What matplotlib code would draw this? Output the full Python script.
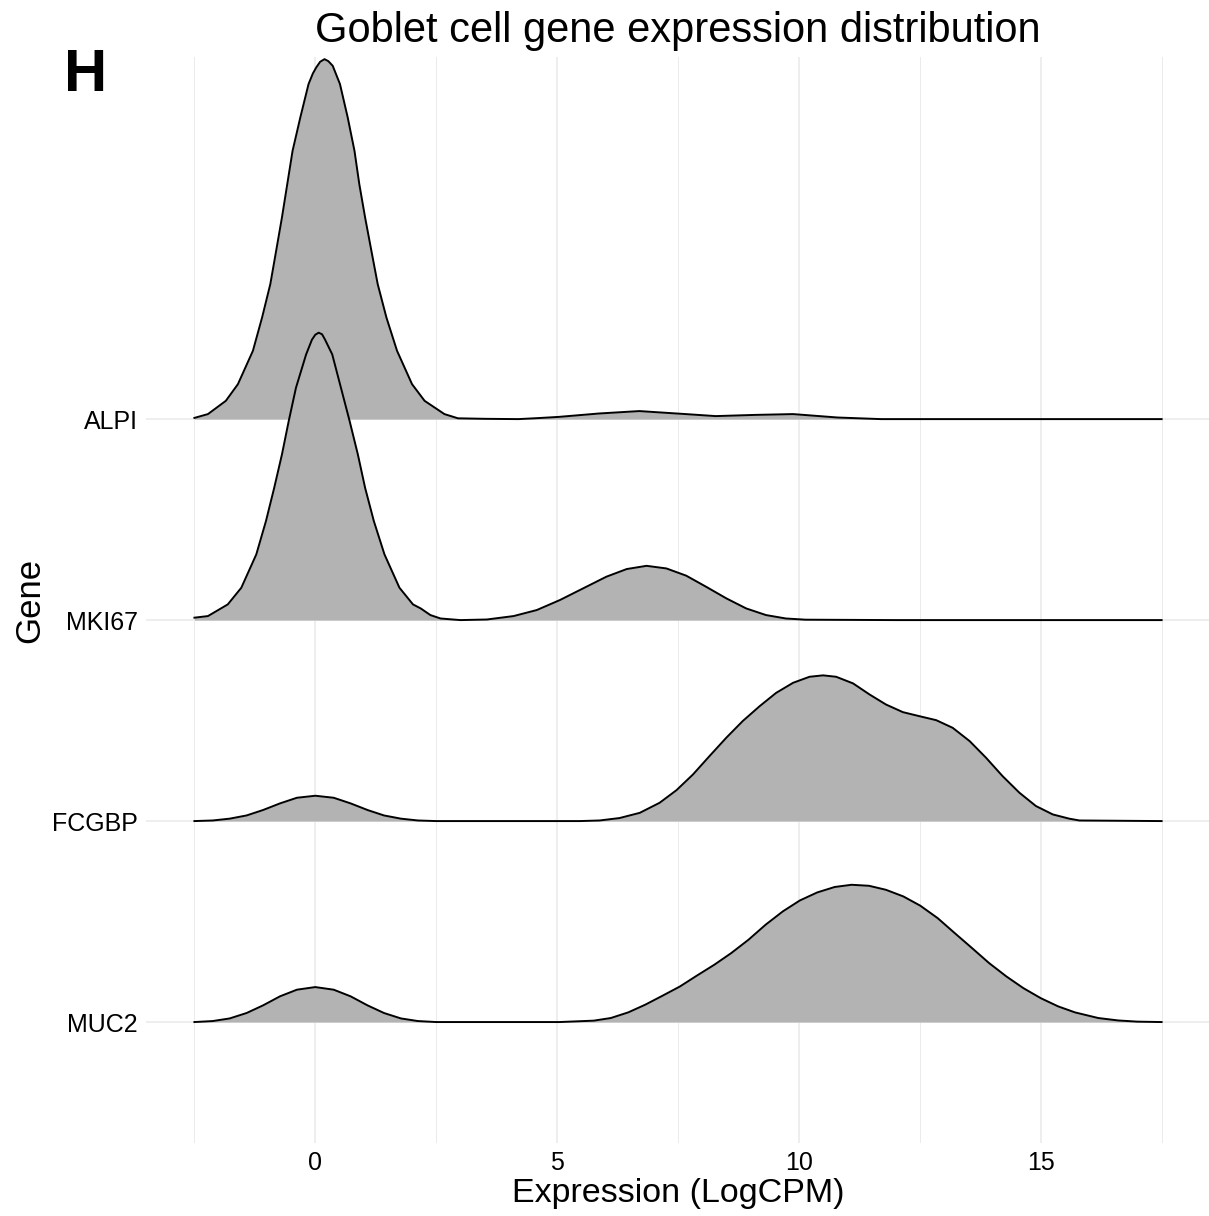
import matplotlib
matplotlib.use("Agg")
import matplotlib.pyplot as plt
from matplotlib.ticker import MultipleLocator

plt.rcParams['font.family'] = ['Liberation Sans', 'DejaVu Sans']

# genes from bottom row to top row
genes = ["MUC2", "FCGBP", "MKI67", "ALPI"]

# ridge heights (1.0 = distance between two rows)
alpi_x = [-2.5, -2.22, -1.85, -1.6, -1.29, -1.1, -0.93, -0.81, -0.69, -0.58, -0.47, -0.31, -0.14,
          -0.05, 0.02, 0.1, 0.19, 0.27, 0.36, 0.51, 0.67, 0.81, 0.91, 1.03, 1.16, 1.29, 1.47, 1.69,
          2.0, 2.26, 2.67, 2.95, 3.5, 4.2, 4.6, 5.03, 5.87, 6.7, 7.66, 8.28, 9.1, 9.88, 10.8, 11.7,
          13.0, 15.0, 17.5]
alpi_h = [0.006, 0.025, 0.091, 0.174, 0.340, 0.506, 0.672, 0.837, 1.003, 1.169, 1.335, 1.501, 1.667,
          1.72, 1.750, 1.778, 1.791, 1.781, 1.758, 1.667, 1.501, 1.335, 1.169, 1.003, 0.837, 0.672, 0.506,
          0.340, 0.174, 0.091, 0.025, 0.004, 0.0015, 0.0, 0.005, 0.011, 0.028, 0.040, 0.025, 0.015,
          0.021, 0.025, 0.008, 0.0, 0.0, 0.0, 0.0]

mki67_x = [-2.5, -2.22, -1.81, -1.53, -1.22, -1.02, -0.85, -0.69, -0.55, -0.4, -0.19, -0.07, 0.0,
           0.07, 0.14, 0.2, 0.35, 0.53, 0.71, 0.88, 1.03, 1.21, 1.43, 1.74, 2.02, 2.18, 2.38, 2.59,
           3.0, 3.55, 4.1, 4.58, 5.06, 5.54, 6.02, 6.44, 6.85, 7.26, 7.67, 8.08, 8.5, 8.91, 9.32,
           9.73, 10.14, 12.0, 15.0, 17.5]
mki67_h = [0.012, 0.020, 0.078, 0.161, 0.327, 0.493, 0.658, 0.824, 0.990, 1.156, 1.322, 1.395, 1.42,
           1.430, 1.422, 1.396, 1.322, 1.156, 0.990, 0.824, 0.658, 0.493, 0.327, 0.161, 0.078, 0.058,
           0.025, 0.008, 0.0, 0.003, 0.020, 0.050, 0.100, 0.158, 0.216, 0.254, 0.270, 0.257, 0.221,
           0.166, 0.108, 0.058, 0.025, 0.008, 0.002, 0.0, 0.0, 0.0]

fcgbp_x = [-2.5, -2.12, -1.77, -1.42, -1.08, -0.73, -0.38, 0.0, 0.38, 0.73, 1.08, 1.42, 1.77, 2.12,
           2.5, 5.47, 5.88, 6.29, 6.71, 7.12, 7.47, 7.81, 8.15, 8.5, 8.84, 9.19, 9.53, 9.88, 10.22,
           10.5, 10.77, 11.12, 11.46, 11.8, 12.15, 12.49, 12.84, 13.18, 13.53, 13.87, 14.21, 14.56,
           14.9, 15.25, 15.59, 15.8, 17.5]
fcgbp_h = [0.0, 0.003, 0.012, 0.028, 0.055, 0.088, 0.116, 0.126, 0.116, 0.088, 0.055, 0.028, 0.012, 0.003,
           0.0, 0.0, 0.003, 0.015, 0.041, 0.091, 0.154, 0.232, 0.323, 0.415, 0.498, 0.572, 0.638, 0.688, 0.718,
           0.725, 0.718, 0.685, 0.630, 0.580, 0.542, 0.522, 0.502, 0.464, 0.398, 0.315, 0.224, 0.141,
           0.075, 0.033, 0.012, 0.003, 0.0]

muc2_x = [-2.5, -2.12, -1.77, -1.42, -1.08, -0.73, -0.38, 0.0, 0.38, 0.73, 1.08, 1.42, 1.77, 2.12,
          2.5, 5.05, 5.76, 6.11, 6.47, 6.82, 7.18, 7.54, 7.89, 8.25, 8.6, 8.96, 9.31, 9.67, 10.02,
          10.38, 10.74, 11.09, 11.45, 11.8, 12.16, 12.51, 12.87, 13.22, 13.58, 13.93, 14.29, 14.64,
          15.0, 15.36, 15.71, 16.19, 16.6, 17.0, 17.5]
muc2_h = [0.0, 0.005, 0.018, 0.045, 0.083, 0.128, 0.161, 0.174, 0.161, 0.128, 0.083, 0.045, 0.018, 0.005,
          0.0, 0.0, 0.007, 0.020, 0.048, 0.086, 0.131, 0.177, 0.231, 0.285, 0.343, 0.410, 0.484, 0.551, 0.605,
          0.645, 0.672, 0.683, 0.678, 0.658, 0.625, 0.579, 0.517, 0.443, 0.368, 0.294, 0.227, 0.169,
          0.119, 0.078, 0.048, 0.020, 0.008, 0.002, 0.0]

ridges = [(muc2_x, muc2_h), (fcgbp_x, fcgbp_h), (mki67_x, mki67_h), (alpi_x, alpi_h)]

fig = plt.figure(figsize=(12.09, 12.16), dpi=100)
ax = fig.add_axes([0.1208, 0.060, 0.880, 0.893])

# top row first so lower rows lie over it
for i in range(len(genes) - 1, -1, -1):
    xs, hs = ridges[i]
    base = i + 1
    top = [base + h for h in hs]
    z = 10 + (len(genes) - i)
    ax.fill_between(xs, base, top, color="#B3B3B3", lw=0, zorder=z)
    ax.plot(xs, top, color="black", lw=1.4, solid_joinstyle="round", zorder=z + 0.5)

ax.set_xlim(-3.5, 18.5)
ax.set_ylim(0.398, 5.801)
ax.xaxis.set_major_locator(MultipleLocator(5))
ax.xaxis.set_minor_locator(MultipleLocator(2.5))
ax.set_yticks(range(1, len(genes) + 1))
ax.set_yticklabels(genes)
ax.grid(True, which="major", color="#EBEBEB", lw=1.2, zorder=0)
ax.grid(True, which="minor", axis="x", color="#EBEBEB", lw=0.7, zorder=0)
ax.set_axisbelow(True)
for s in ax.spines.values():
    s.set_visible(False)
ax.tick_params(which="both", length=0, labelsize=18, colors="black")
ax.tick_params(axis="y", pad=6)
ax.tick_params(axis="x", pad=6)

ax.set_xlabel("Expression (LogCPM)", fontsize=24.5, labelpad=2)
ax.set_ylabel("Gene", fontsize=25, labelpad=4)
ax.set_title("Goblet cell gene expression distribution", fontsize=30, pad=11)

fig.text(0.053, 0.925, "H", fontsize=43, fontweight="bold")

fig.savefig("out.png", dpi=100)
